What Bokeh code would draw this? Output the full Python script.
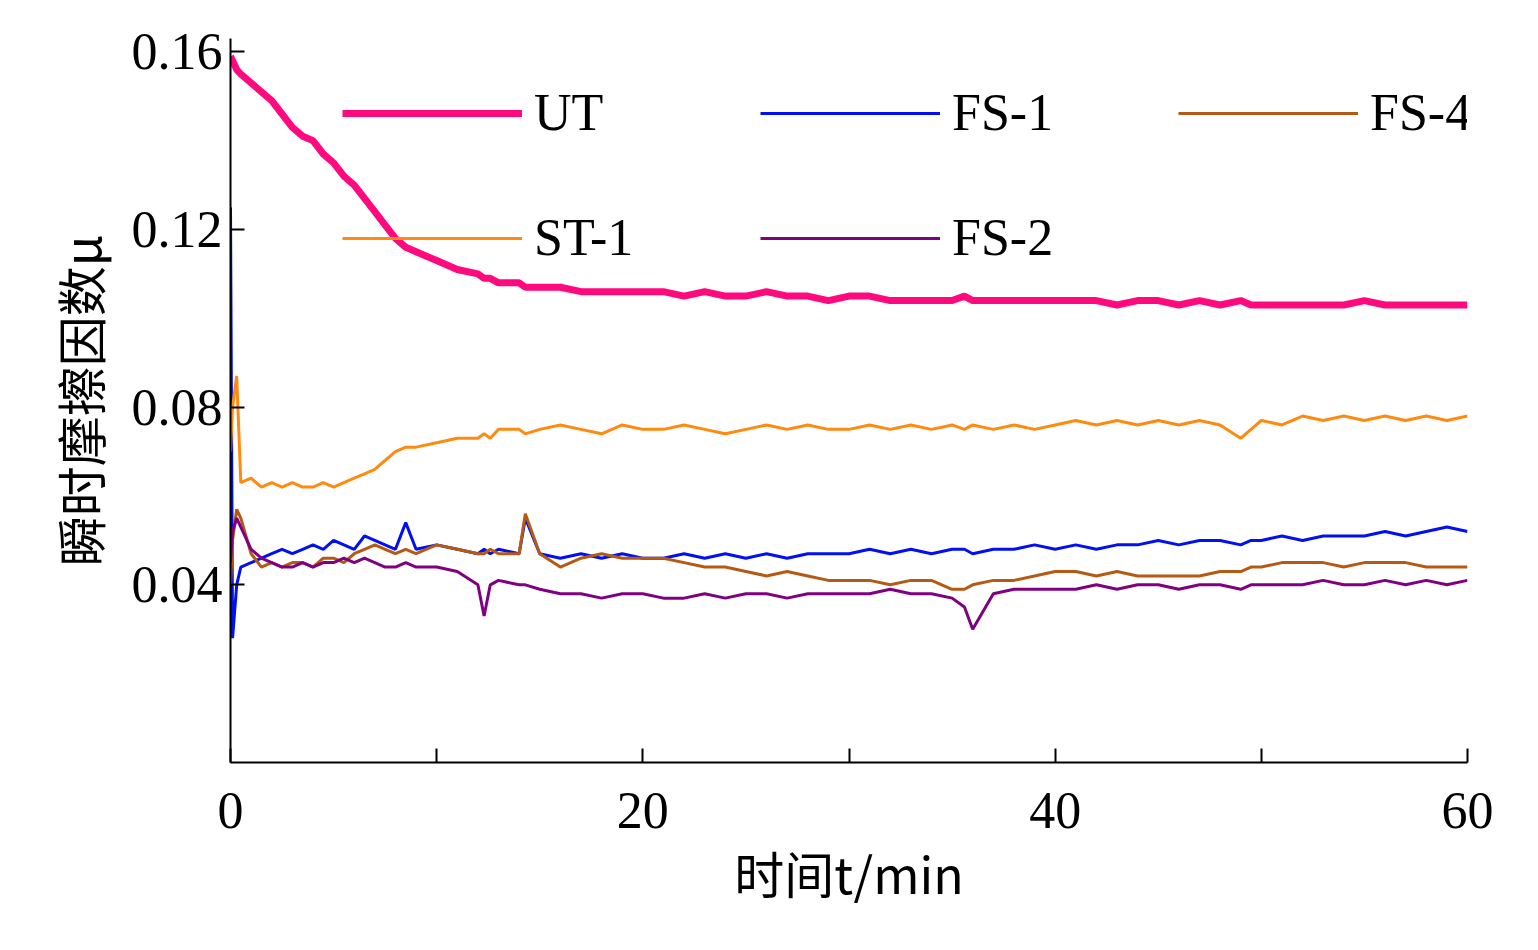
from bokeh.plotting import figure
from bokeh.models import Legend, LegendItem, FixedTicker
from bokeh.embed import file_html
from bokeh.resources import INLINE

t = [0.0,0.1,0.3,0.5,1,1.5,2,2.5,3,3.5,4,4.5,5,5.5,6,6.5,7,7.5,8,8.5,9,10,11,12,12.3,12.6,13,14,14.3,15,16,17,18,19,20,21,22,23,24,25,26,27,28,29,30,31,32,33,34,35,35.6,36,37,38,39,40,41,42,43,44,45,46,47,48,49,49.5,50,51,52,53,54,55,56,57,58,59,60]

ut = [0.159,0.158,0.156,0.155,0.153,0.151,0.149,0.146,0.143,0.141,0.140,0.137,0.135,0.132,0.130,0.127,0.124,0.121,0.118,0.116,0.115,0.113,0.111,0.110,0.109,0.109,0.108,0.108,0.107,0.107,0.107,0.106,0.106,0.106,0.106,0.106,0.105,0.106,0.105,0.105,0.106,0.105,0.105,0.104,0.105,0.105,0.104,0.104,0.104,0.104,0.105,0.104,0.104,0.104,0.104,0.104,0.104,0.104,0.103,0.104,0.104,0.103,0.104,0.103,0.104,0.103,0.103,0.103,0.103,0.103,0.103,0.104,0.103,0.103,0.103,0.103,0.103]
st1 = [0.070,0.080,0.087,0.063,0.064,0.062,0.063,0.062,0.063,0.062,0.062,0.063,0.062,0.063,0.064,0.065,0.066,0.068,0.070,0.071,0.071,0.072,0.073,0.073,0.074,0.073,0.075,0.075,0.074,0.075,0.076,0.075,0.074,0.076,0.075,0.075,0.076,0.075,0.074,0.075,0.076,0.075,0.076,0.075,0.075,0.076,0.075,0.076,0.075,0.076,0.075,0.076,0.075,0.076,0.075,0.076,0.077,0.076,0.077,0.076,0.077,0.076,0.077,0.076,0.073,0.075,0.077,0.076,0.078,0.077,0.078,0.077,0.078,0.077,0.078,0.077,0.078]
fs1 = [0.125,0.028,0.040,0.044,0.045,0.046,0.047,0.048,0.047,0.048,0.049,0.048,0.050,0.049,0.048,0.051,0.050,0.049,0.048,0.054,0.048,0.049,0.048,0.047,0.048,0.047,0.048,0.047,0.055,0.047,0.046,0.047,0.046,0.047,0.046,0.046,0.047,0.046,0.047,0.046,0.047,0.046,0.047,0.047,0.047,0.048,0.047,0.048,0.047,0.048,0.048,0.047,0.048,0.048,0.049,0.048,0.049,0.048,0.049,0.049,0.050,0.049,0.050,0.050,0.049,0.050,0.050,0.051,0.050,0.051,0.051,0.051,0.052,0.051,0.052,0.053,0.052]
fs4 = [0.040,0.050,0.057,0.055,0.047,0.044,0.045,0.044,0.045,0.045,0.044,0.046,0.046,0.045,0.047,0.048,0.049,0.048,0.047,0.048,0.047,0.049,0.048,0.047,0.047,0.048,0.047,0.047,0.056,0.047,0.044,0.046,0.047,0.046,0.046,0.046,0.045,0.044,0.044,0.043,0.042,0.043,0.042,0.041,0.041,0.041,0.040,0.041,0.041,0.039,0.039,0.040,0.041,0.041,0.042,0.043,0.043,0.042,0.043,0.042,0.042,0.042,0.042,0.043,0.043,0.044,0.044,0.045,0.045,0.045,0.044,0.045,0.045,0.045,0.044,0.044,0.044]
fs2 = [0.045,0.052,0.055,0.053,0.048,0.046,0.045,0.044,0.044,0.045,0.044,0.045,0.045,0.046,0.045,0.046,0.045,0.044,0.044,0.045,0.044,0.044,0.043,0.040,0.033,0.040,0.041,0.040,0.040,0.039,0.038,0.038,0.037,0.038,0.038,0.037,0.037,0.038,0.037,0.038,0.038,0.037,0.038,0.038,0.038,0.038,0.039,0.038,0.038,0.037,0.035,0.030,0.038,0.039,0.039,0.039,0.039,0.040,0.039,0.040,0.040,0.039,0.040,0.040,0.039,0.040,0.040,0.040,0.040,0.041,0.040,0.040,0.041,0.040,0.041,0.040,0.041]

p = figure(width=1520, height=930, x_range=(0, 60), y_range=(0, 0.163),
           output_backend="svg", toolbar_location=None,
           min_border_left=230, min_border_right=53, min_border_top=38, min_border_bottom=168)
p.outline_line_color = None
p.grid.visible = False
p.background_fill_color = "white"

r_ut = p.line(t, ut, color="#ff0a7e", line_width=7)
r_fs1 = p.line(t, fs1, color="#0010f0", line_width=3)
r_fs4 = p.line(t, fs4, color="#b55a14", line_width=3)
r_st1 = p.line(t, st1, color="#ff8a10", line_width=3)
r_fs2 = p.line(t, fs2, color="#800080", line_width=3)

for ax in (p.xaxis[0], p.yaxis[0]):
    ax.axis_line_color = "black"
    ax.axis_line_width = 2
    ax.major_tick_line_width = 2
    ax.major_tick_in = 14
    ax.major_tick_out = 0
    ax.minor_tick_line_color = None
    ax.major_label_text_font = "Liberation Serif"
    ax.major_label_text_font_size = "52px"
    ax.major_label_text_color = "black"
    ax.axis_label_text_font = "Noto Sans CJK SC"
    ax.axis_label_text_font_size = "50px"
    ax.axis_label_text_font_style = "normal"
    ax.axis_label_text_color = "black"

p.xaxis.ticker = FixedTicker(ticks=[0, 10, 20, 30, 40, 50, 60])
p.xaxis.major_label_overrides = {0: "0", 10: "", 20: "20", 30: "", 40: "40", 50: "", 60: "60"}
p.xaxis.major_label_standoff = 30
p.yaxis.ticker = FixedTicker(ticks=[0.04, 0.08, 0.12, 0.16])
p.yaxis.major_label_overrides = {0.04: "0.04", 0.08: "0.08", 0.12: "0.12", 0.16: "0.16"}
p.yaxis.major_label_standoff = 8
p.xaxis.axis_label = "时间t/min"
p.yaxis.axis_label = "瞬时摩擦因数μ"
p.xaxis.axis_label_standoff = 5
p.yaxis.axis_label_standoff = 14

legend = Legend(items=[
    LegendItem(label="UT", renderers=[r_ut]),
    LegendItem(label="ST-1", renderers=[r_st1]),
    LegendItem(label="FS-1", renderers=[r_fs1]),
    LegendItem(label="FS-2", renderers=[r_fs2]),
    LegendItem(label="FS-4", renderers=[r_fs4]),
], ncols=3, location=(112, 495), glyph_width=180, glyph_height=54,
   label_text_font="Liberation Serif", label_text_font_size="52px",
   label_text_color="black",
   border_line_color=None, background_fill_alpha=0, spacing=66,
   label_width=160, label_standoff=12, padding=5)
p.add_layout(legend)

open("out.html", "w").write(file_html(p, INLINE))
